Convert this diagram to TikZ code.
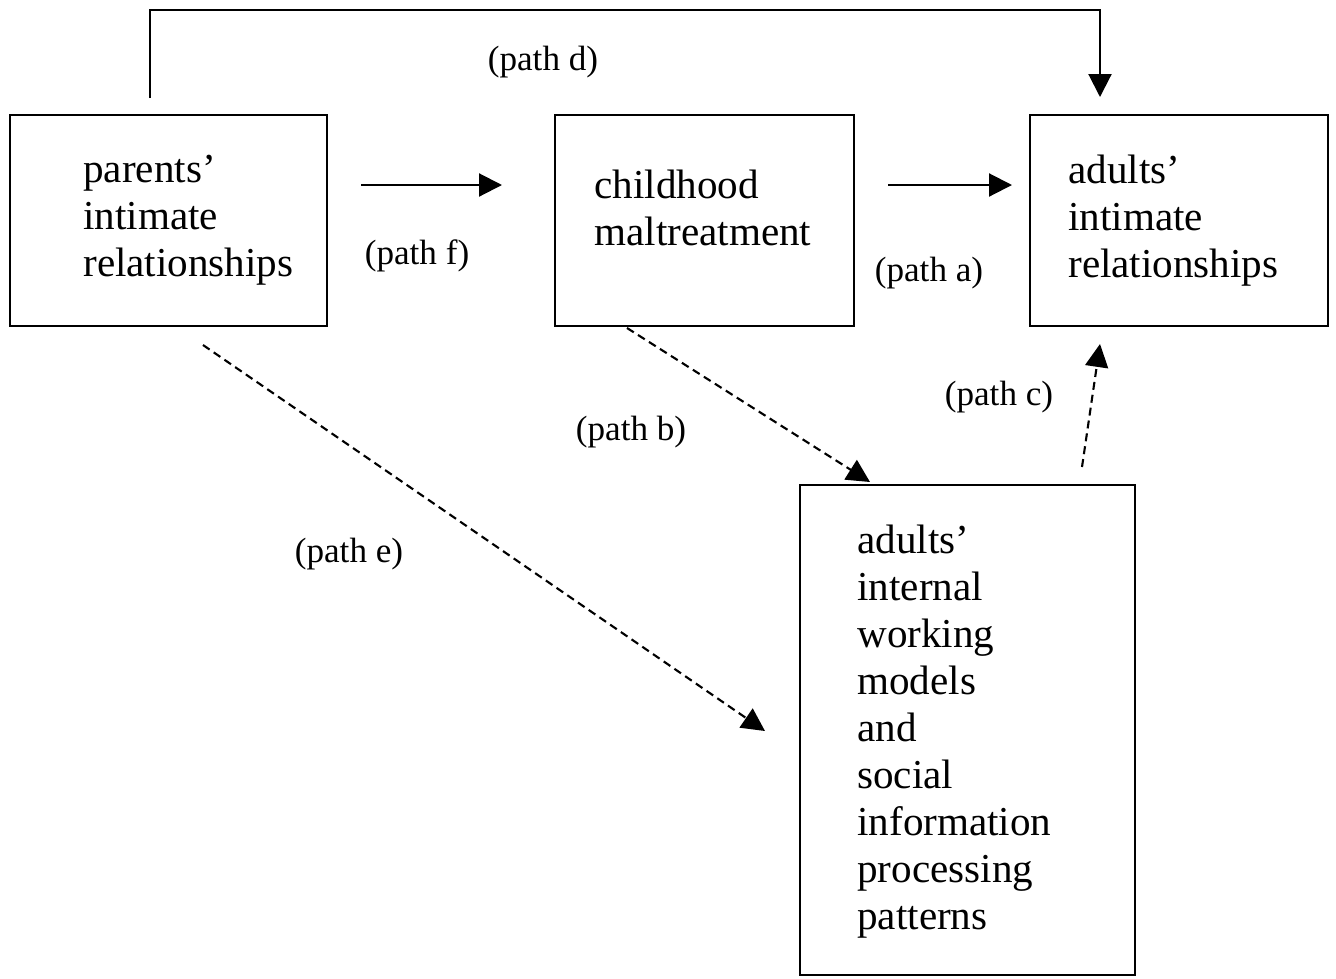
\documentclass[tikz,border=0pt]{standalone}
\usepackage{fontspec}
\setmainfont{Liberation Serif}
\usetikzlibrary{arrows.meta}
\begin{document}
\begin{tikzpicture}[x=0.02cm,y=-0.02cm,
  box/.style={draw, line width=1.2pt, inner sep=0pt, minimum height=4.22cm},
  boxtext/.style={anchor=north west, inner sep=0pt, align=left, font=\fontsize{23.4}{26.7}\selectfont},
  pathlabel/.style={inner sep=0pt, font=\fontsize{20}{24}\selectfont},
  arr/.style={line width=1.2pt, -{Triangle[length=0.46cm,width=0.46cm]}},
  darr/.style={arr, dash pattern=on 0.16cm off 0.1cm}]
\useasboundingbox (0,0) rectangle (1336,978);
% boxes
\node[box, minimum width=6.34cm] (P) at (168.5,220.5) {};
\node[box, minimum width=5.98cm] (C) at (704.5,220.5) {};
\node[box, minimum width=5.96cm] (A) at (1179,220.5) {};
\node[box, minimum width=6.70cm, minimum height=9.80cm] (W) at (967.5,730) {};
% texts
\node[boxtext] (Pt) at (83,155) {parents’\\intimate\\relationships};
\node[boxtext] (Ct) at (594,170) {childhood\\maltreatment};
\node[boxtext] (At) at (1068,155) {adults’\\intimate\\relationships};
\node[boxtext] (Wt) at (857,525) {adults’\\internal\\working\\models\\and\\social\\information\\processing\\patterns};
% connector ends
\coordinate (dS) at (150,98);
\coordinate (dE) at (1100,97);
\coordinate (fS) at (361,185);
\coordinate (fE) at (502,185);
\coordinate (aS) at (888,185);
\coordinate (aE) at (1012,185);
\coordinate (bS) at (627,328);
\coordinate (bE) at (870,482);
\coordinate (eS) at (203,345);
\coordinate (eE) at (765,731);
\coordinate (cS) at (1082,467);
\coordinate (cE) at (1100,344);
% connectors
\draw[arr] (dS) -- ++(0,-88) -| (dE);
\draw[arr] (fS) -- (fE);
\draw[arr] (aS) -- (aE);
\draw[darr] (bS) -- (bE);
\draw[darr] (eS) -- (eE);
\draw[darr] (cS) -- (cE);
% labels
\node[pathlabel] (ld) at (543,62) {(path d)};
\node[pathlabel] (lf) at (417,256) {(path f)};
\node[pathlabel] (la) at (929,273) {(path a)};
\node[pathlabel] (lb) at (631,432) {(path b)};
\node[pathlabel] (lc) at (999,397) {(path c)};
\node[pathlabel] (le) at (349,554) {(path e)};
\end{tikzpicture}
\end{document}
